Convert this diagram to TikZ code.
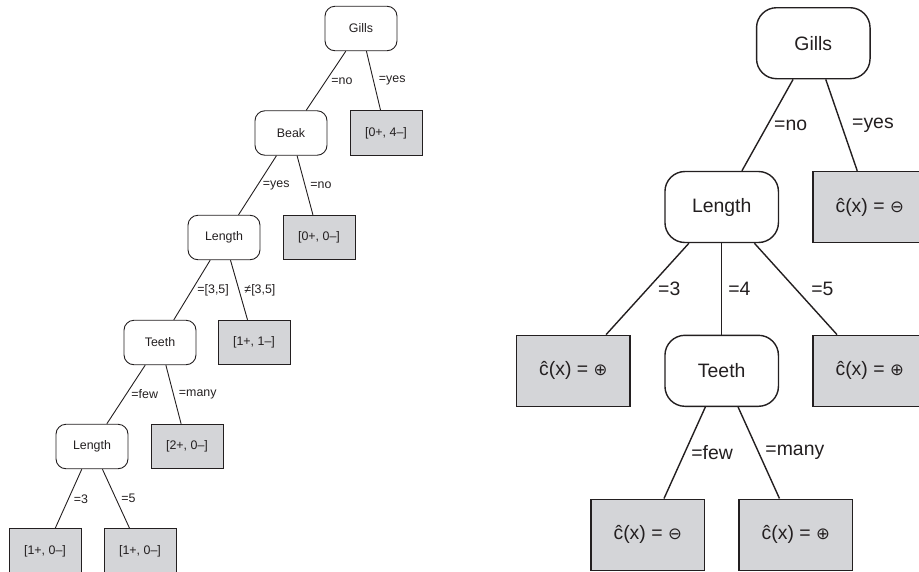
\documentclass[tikz,border=0pt]{standalone}
\usepackage{fontspec}
\setmainfont{Liberation Sans}
\newfontfamily\symfnt{DejaVu Sans}

\definecolor{ink}{RGB}{35,31,32}
\definecolor{leafgray}{RGB}{212,213,216}

% class symbols for the leaves
\newcommand{\cplus}{{\symfnt\fontsize{16.5}{17}\selectfont ⊕}}
\newcommand{\cminus}{{\symfnt\fontsize{16.5}{17}\selectfont ⊖}}

\tikzset{
  test/.style={draw,rounded corners=10pt,minimum width=72pt,minimum height=44.5pt,inner sep=0pt},
  leaf/.style={draw,fill=leafgray,minimum width=72pt,minimum height=44.5pt,inner sep=0pt},
  bigtest/.style={draw,rounded corners=20pt,minimum width=113.5pt,minimum height=71pt,inner sep=0pt},
  bigleaf/.style={draw,fill=leafgray,minimum width=113.5pt,minimum height=71pt,inner sep=0pt},
  lbl/.style={right=5pt,inner sep=0pt},
  biglbl/.style={right=6pt,inner sep=0pt}
}

\begin{document}
\begin{tikzpicture}[x=1pt,y=-1pt,color=ink]
  \clip (0,0) rectangle (919,571);

  % feature tree with class counts
  \begin{scope}[font=\fontsize{12.4}{15}\selectfont,line width=0.9pt]
    \node[test] (g) at (361,28.5) {Gills};
    \node[test] (b) at (291,133) {Beak};
    \node[leaf] (p1) at (386,133) {[0+, 4–]};
    \node[test] (l) at (224,237.5) {Length};
    \node[leaf] (p2) at (319,237.5) {[0+, 0–]};
    \node[test] (t) at (160,342.5) {Teeth};
    \node[leaf] (p3) at (254,342.5) {[1+, 1–]};
    \node[test] (l2) at (92,446.5) {Length};
    \node[leaf] (p4) at (187,446.5) {[2+, 0–]};
    \node[leaf] (p5) at (45,551) {[1+, 0–]};
    \node[leaf] (p6) at (140,551) {[1+, 0–]};
    \draw (g) -- node[lbl] {=no} (b);
    \draw (g) -- node[lbl] {=yes} (p1);
    \draw (b) -- node[lbl] {=yes} (l);
    \draw (b) -- node[lbl] {=no} (p2);
    \draw (l) -- node[lbl] {=[3,5]} (t);
    \draw (l) -- node[lbl] {≠[3,5]} (p3);
    \draw (t) -- node[lbl] {=few} (l2);
    \draw (t) -- node[lbl] {=many} (p4);
    \draw (l2) -- node[lbl] {=3} (p5);
    \draw (l2) -- node[lbl] {=5} (p6);
  \end{scope}

  % tree with class labels
  \begin{scope}[font=\fontsize{19.4}{23}\selectfont,line width=1.4pt]
    \node[bigtest] (G) at (813.3,43.2) {Gills};
    \node[bigtest] (L) at (721.7,207) {Length};
    \node[bigleaf] (c1) at (869.7,207) {ĉ(x) = \cminus};
    \node[bigleaf] (c2) at (573.3,370.8) {ĉ(x) = \cplus};
    \node[bigtest] (T) at (721.7,370.8) {Teeth};
    \node[bigleaf] (c3) at (869.7,370.8) {ĉ(x) = \cplus};
    \node[bigleaf] (c4) at (647.7,534.7) {ĉ(x) = \cminus};
    \node[bigleaf] (c5) at (795.8,534.7) {ĉ(x) = \cplus};
    \draw (G) -- node[biglbl] {=no} (L);
    \draw (G) -- node[biglbl,xshift=4pt] {=yes} (c1);
    \draw (L) -- node[biglbl,xshift=4pt] {=3} (c2);
    \draw (L) -- node[biglbl] {=4} (T);
    \draw (L) -- node[biglbl,xshift=9pt] {=5} (c3);
    \draw (T) -- node[biglbl] {=few} (c4);
    \draw (T) -- node[biglbl] {=many} (c5);
  \end{scope}
\end{tikzpicture}
\end{document}
